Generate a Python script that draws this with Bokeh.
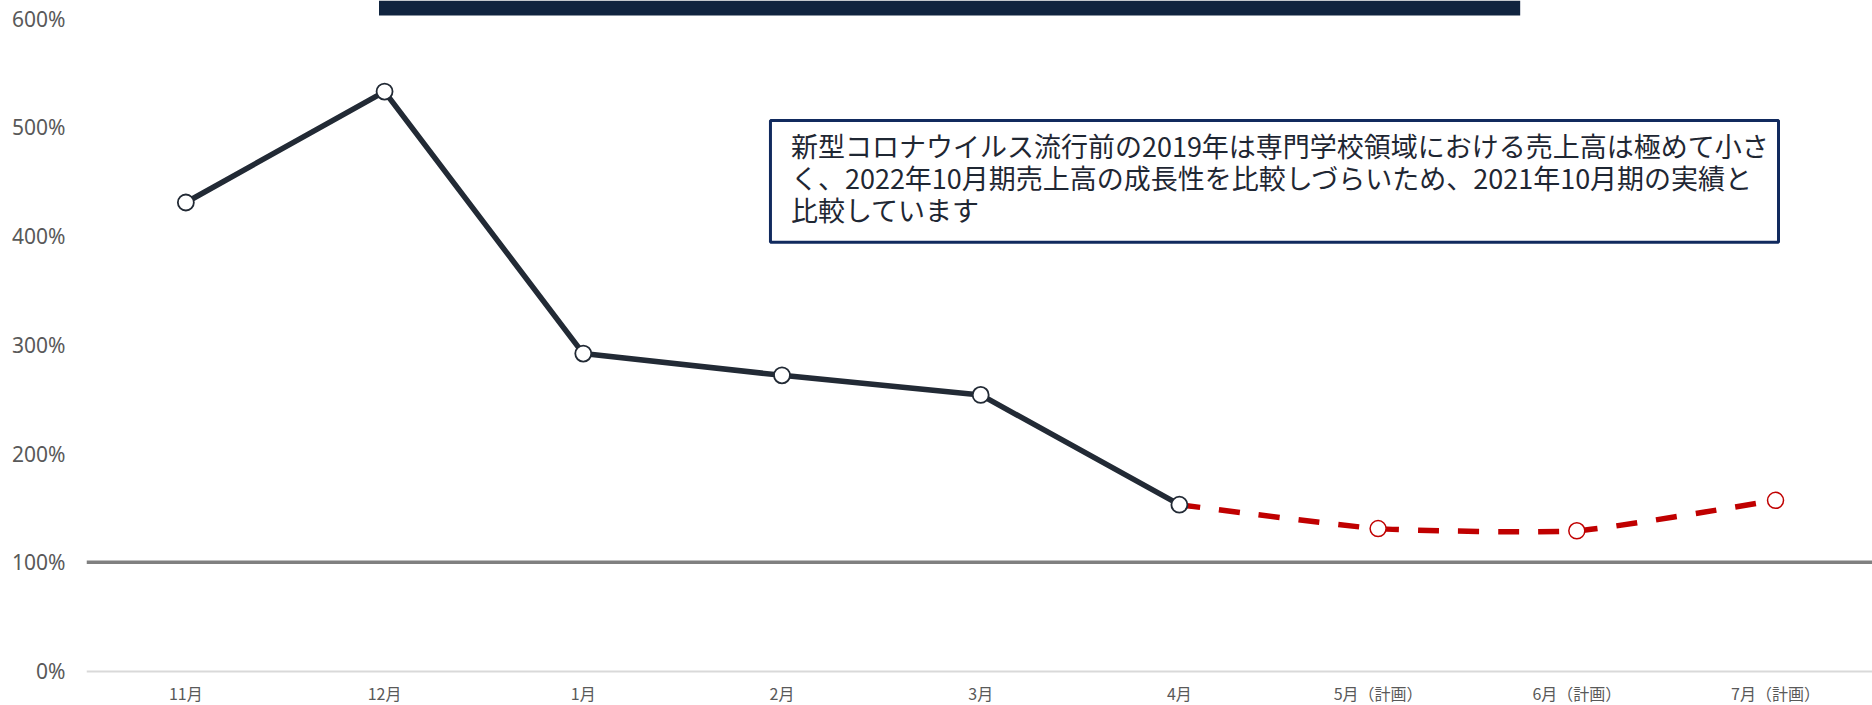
from bokeh.plotting import figure
from bokeh.models import Range1d, FixedTicker, BoxAnnotation, Label, Span
from bokeh.embed import file_html
from bokeh.resources import INLINE

# ---- data ----
months = ["11月", "12月", "1月", "2月", "3月", "4月", "5月（計画）", "6月（計画）", "7月（計画）"]
actual_months = ["11月", "12月", "1月", "2月", "3月", "4月"]
actual_vals = [431, 533, 292, 272, 254, 153]
plan_months = ["4月", "5月（計画）", "6月（計画）", "7月（計画）"]
plan_vals = [153, 131, 129, 157]
y_ticks = [0, 100, 200, 300, 400, 500, 600]
y_tick_labels = ["0%", "100%", "200%", "300%", "400%", "500%", "600%"]
note_text = ("新型コロナウイルス流行前の2019年は専門学校領域における売上高は極めて小さ\n"
             "く、2022年10月期売上高の成長性を比較しづらいため、2021年10月期の実績と\n"
             "比較しています")

idx = {m: i for i, m in enumerate(months)}
ax = [idx[m] for m in actual_months]
px = [idx[m] for m in plan_months]

Y_END = 616.8
Y_START = -31.7
p = figure(width=1872, height=705, output_backend="svg", toolbar_location=None,
           x_range=Range1d(-0.5, 8.488), y_range=Range1d(Y_START, Y_END),
           min_border_left=86, min_border_right=0, min_border_top=0, min_border_bottom=0)
p.outline_line_color = None
p.grid.visible = False
p.background_fill_color = "white"

# x axis drawn at the 0% level
p.xaxis.fixed_location = 0
p.xaxis.ticker = FixedTicker(ticks=list(range(len(months))))
p.xaxis.major_label_overrides = {i: m for i, m in enumerate(months)}
p.xaxis.axis_line_color = "#d9d9d9"
p.xaxis.axis_line_width = 2
p.xaxis.major_tick_line_color = None
p.xaxis.minor_tick_line_color = None
p.xaxis.major_label_standoff = 4
p.xaxis.major_label_text_font = "Noto Sans CJK JP"
p.xaxis.major_label_text_font_size = "16px"
p.xaxis.major_label_text_color = "#595959"

p.yaxis.ticker = FixedTicker(ticks=y_ticks)
p.yaxis.major_label_overrides = {t: l for t, l in zip(y_ticks, y_tick_labels)}
p.yaxis.axis_line_color = None
p.yaxis.major_tick_line_color = None
p.yaxis.minor_tick_line_color = None
p.yaxis.major_label_standoff = 15
p.yaxis.major_label_text_font = "Noto Sans"
p.yaxis.major_label_text_font_size = "21px"
p.yaxis.major_label_text_color = "#595959"

# 100% reference line
p.add_layout(Span(location=100, dimension="width", line_color="#808080", line_width=3.5))

# plan (smoothed dashed curve through the plan points)
T = 1 / 12
n = len(px)
x0s, y0s, x1s, y1s, cx0, cy0, cx1, cy1 = [], [], [], [], [], [], [], []
for i in range(n - 1):
    xa, ya = px[i], plan_vals[i]
    xb, yb = px[i + 1], plan_vals[i + 1]
    xp, yp = (px[i - 1], plan_vals[i - 1]) if i > 0 else (xa, ya)
    xn, yn = (px[i + 2], plan_vals[i + 2]) if i + 2 < n else (xb, yb)
    x0s.append(xa); y0s.append(ya); x1s.append(xb); y1s.append(yb)
    cx0.append(xa + (xb - xp) * T); cy0.append(ya + (yb - yp) * T)
    cx1.append(xb - (xn - xa) * T); cy1.append(yb - (yn - ya) * T)
p.bezier(x0=x0s, y0=y0s, x1=x1s, y1=y1s, cx0=cx0, cy0=cy0, cx1=cx1, cy1=cy1,
         line_color="#c00000", line_width=5.5, line_dash="21 19")
p.scatter(px[1:], plan_vals[1:], size=16, fill_color="white", line_color="#c00000", line_width=1.5)

# actual
p.line(ax, actual_vals, line_color="#222a35", line_width=5.5)
p.scatter(ax, actual_vals, size=16, fill_color="white", line_color="#222a35", line_width=1.8)

# top dark bar
p.add_layout(BoxAnnotation(left=0.972, right=6.715, bottom=603.0, top=Y_END,
                           fill_color="#10243f", fill_alpha=1, line_color=None))

# note box
p.add_layout(BoxAnnotation(left=2.942, right=8.015, bottom=394.5, top=506.4,
                           fill_color="white", fill_alpha=1,
                           line_color="#112a5e", line_alpha=1, line_width=3))
p.add_layout(Label(x=3.045, y=454, text=note_text, text_font="Noto Sans CJK JP",
                   text_font_size="27px", text_color="#1f2733", text_baseline="middle",
                   text_align="left", text_line_height=0.81))

open("out.html", "w").write(file_html(p, INLINE))
